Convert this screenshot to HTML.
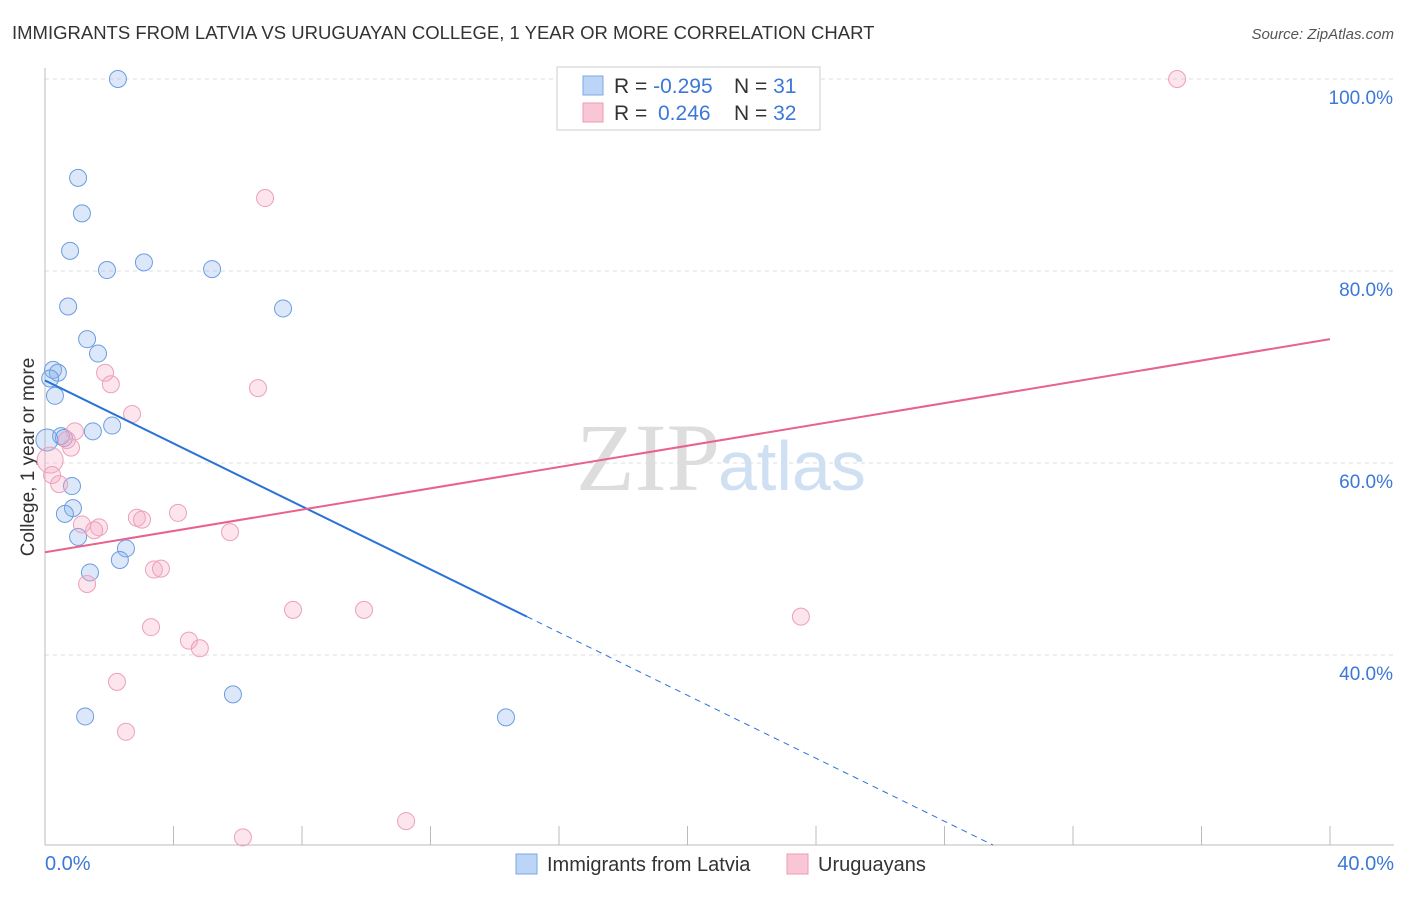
<!DOCTYPE html>
<html><head><meta charset="utf-8"><style>
body{margin:0;background:#fff;font-family:"Liberation Sans",sans-serif;}
</style></head><body>
<svg width="1406" height="892" xmlns="http://www.w3.org/2000/svg" font-family="Liberation Sans, sans-serif">
<text x="12" y="39" font-size="18.5" fill="#333">IMMIGRANTS FROM LATVIA VS URUGUAYAN COLLEGE, 1 YEAR OR MORE CORRELATION CHART</text>
<text x="1394" y="39" font-size="15" fill="#555" font-style="italic" text-anchor="end">Source: ZipAtlas.com</text>
<g id="grid"></g>
<text x="720" y="490" font-size="96" fill="#ddd" text-anchor="end" font-family="Liberation Serif, serif">ZIP</text>
<text x="718" y="490" font-size="70" fill="#cfe0f3">atlas</text>
<line x1="45" y1="68" x2="45" y2="845" stroke="#bbb"/>
<line x1="45" y1="845" x2="1394" y2="845" stroke="#bbb"/>
<text x="34" y="457" font-size="19" fill="#333" text-anchor="middle" transform="rotate(-90 34 457)">College, 1 year or more</text>
<text x="45" y="870" font-size="20" fill="#3b78d8">0.0%</text>
<text x="1394" y="870" font-size="20" fill="#3b78d8" text-anchor="end">40.0%</text>
<g id="marks"></g>
<g>
<rect x="557" y="67" width="263" height="63" fill="#fff" stroke="#ccc"/>
<rect x="583" y="76" width="20" height="19" fill="#bcd4f5" stroke="#7aa7e6"/>
<rect x="583" y="103" width="20" height="19" fill="#f9c6d5" stroke="#ee9ab3"/>
<text x="614" y="93" font-size="21" fill="#333">R = <tspan fill="#3b78d8">-0.295</tspan><tspan x="734">N = </tspan><tspan fill="#3b78d8">31</tspan></text>
<text x="614" y="120" font-size="21" fill="#333">R = <tspan x="658" fill="#3b78d8">0.246</tspan><tspan x="734">N = </tspan><tspan fill="#3b78d8">32</tspan></text>
</g>
<g>
<rect x="516" y="854" width="21" height="20" fill="#bcd4f5" stroke="#7aa7e6"/>
<text x="547" y="871" font-size="20" fill="#333">Immigrants from Latvia</text>
<rect x="787" y="854" width="21" height="20" fill="#f9c6d5" stroke="#ee9ab3"/>
<text x="818" y="871" font-size="20" fill="#333">Uruguayans</text>
</g>
</svg>
<script>
const yTicks=[100,80,60,40];
const xTicks=[0,4,8,12,16,20,24,28,32,36,40];
const blueX=[2.27,1.03,1.15,0.78,1.93,3.08,5.20,0.72,7.41,1.31,1.65,0.25,0.40,0.16,0.31,0.50,0.59,1.49,2.09,0.06,0.84,0.87,0.62,1.03,2.52,2.33,1.40,1.25,5.85,14.35];
const blueY=[100,89.7,86.0,82.1,80.1,80.9,80.2,76.3,76.1,72.9,71.4,69.7,69.4,68.8,67.0,62.8,62.6,63.3,63.9,62.4,57.6,55.3,54.7,52.3,51.1,49.9,48.6,33.6,35.9,33.5];
const pinkX=[35.24,6.85,1.87,2.05,6.63,2.71,0.93,0.68,0.81,0.16,0.22,0.44,1.15,1.68,1.53,2.86,3.02,4.14,5.76,3.39,3.61,1.31,7.72,9.93,23.53,3.30,4.48,4.82,2.24,2.52,6.16,11.24];
const pinkY=[100,87.6,69.4,68.2,67.8,65.1,63.3,62.4,61.6,60.3,58.75,57.8,53.6,53.3,53.0,54.3,54.1,54.8,52.8,48.9,49.0,47.4,44.7,44.7,44.0,42.9,41.5,40.7,37.2,32.0,21.0,22.7];
const blueTrend=[68.6,44.0]; // at x=0 and x=15
const pinkTrend=[50.7,72.9]; // at x=0 and x=40
const NS='http://www.w3.org/2000/svg';
const sx=v=>45+v*32.125, sy=v=>79+(100-v)*9.6;
function mk(tag,attrs,parent){const e=document.createElementNS(NS,tag);for(const k in attrs)e.setAttribute(k,attrs[k]);parent.appendChild(e);return e;}
const grid=document.getElementById('grid'), marks=document.getElementById('marks');
yTicks.forEach(t=>{
 const l=mk('line',{x1:45,x2:1394,y1:sy(t),y2:sy(t),stroke:'#ddd','stroke-dasharray':'4,4'},grid);
 
 
 const tx=mk('text',{x:1393,y:sy(t)+25,'font-size':19,fill:'#3b78d8','text-anchor':'end'},grid);
 tx.textContent=t.toFixed(1)+'%';
 
 
});
xTicks.forEach(t=>{
 const l=mk('line',{x1:sx(t),x2:sx(t),y1:826,y2:845,stroke:'#bbb'},grid);
 
 
});
blueX.forEach((x,i)=>{
 const c=mk('circle',{cx:sx(x),cy:sy(blueY[i]),r:(x<0.1?11:8.5),fill:'rgba(140,180,235,0.3)',stroke:'#6a9de0','stroke-width':1},marks);
 
 
});
pinkX.forEach((x,i)=>{
 const c=mk('circle',{cx:sx(x),cy:sy(pinkY[i]),r:(x<0.2&&pinkY[i]>60?13:8.5),fill:'rgba(245,170,195,0.3)',stroke:'#eea0b8','stroke-width':1},marks);
 
 
});
const slope=(blueTrend[1]-blueTrend[0])/15;
const xEnd=(20.2-blueTrend[0])/slope;
let l1=mk('line',{x1:sx(0),y1:sy(blueTrend[0]),x2:sx(15),y2:sy(blueTrend[1]),stroke:'#2a72d8','stroke-width':2},marks);


let l2=mk('line',{x1:sx(15),y1:sy(blueTrend[1]),x2:sx(xEnd),y2:sy(20.2),stroke:'#2a72d8','stroke-width':1,'stroke-dasharray':'6,5'},marks);


let l3=mk('line',{x1:sx(0),y1:sy(pinkTrend[0]),x2:sx(40),y2:sy(pinkTrend[1]),stroke:'#e8628c','stroke-width':2},marks);


</script>
</body></html>
